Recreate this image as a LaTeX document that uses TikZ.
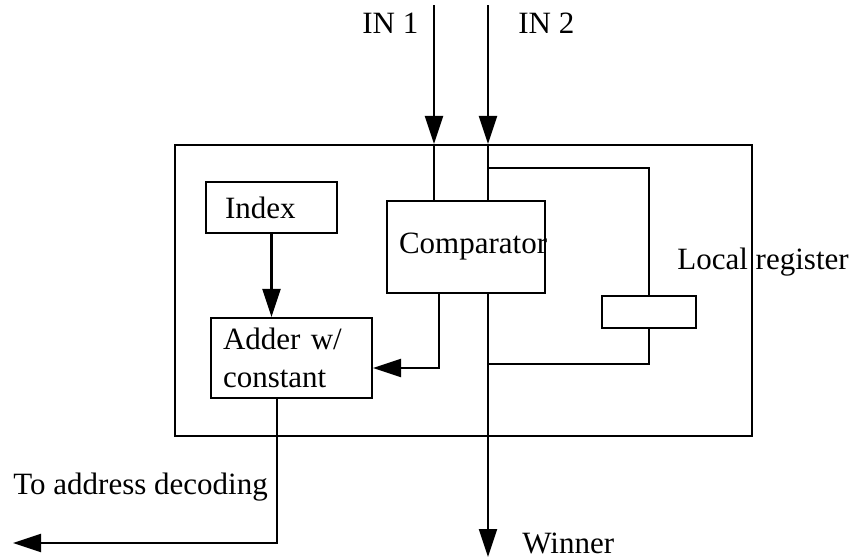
\documentclass[tikz,border=0pt]{standalone}
\usepackage{fontspec}
\setmainfont{Liberation Serif}
\usetikzlibrary{arrows.meta, positioning, calc}

\tikzset{
  blk/.style={draw, line width=1.1pt, align=left, inner ysep=0pt},
  wire/.style={line width=1.1pt},
  sig/.style={line width=1.1pt, -{Triangle[length=14pt,width=9pt]}},
  lbl/.style={inner sep=0pt, anchor=west}
}

\begin{document}
\begin{tikzpicture}[x=0.5pt, y=-0.5pt, font=\fontsize{15.5}{19}\selectfont]
  \useasboundingbox (0,0) rectangle (853,558);

  % Processing element
  \node[draw, line width=1.1pt, minimum width=288.5pt, minimum height=145.5pt] (chip) at (463.5,290.5) {};
  \node[blk, inner xsep=9.5pt, text width=46.5pt, minimum height=25.5pt] (index) at (271.5,207.5) {Index};
  \node[blk, inner xsep=6pt, text width=67pt, minimum height=46pt] (cmp) at (466,247) {Comparator};
  \node[blk, inner xsep=6pt, text width=68.5pt, minimum height=40pt] (adder) at (291.5,358) {Adder w/\\constant};
  \node[draw, line width=1.1pt, minimum width=47pt, minimum height=16pt] (reg) at (649,312) {};

  % Labels
  \node[lbl] (lin1) at (362,23) {IN 1};
  \node[lbl] (lin2) at (518,23) {IN 2};
  \node[lbl] (lreg) at (677,262) {Local register};
  \node[lbl] (laddr) at (13,487) {To address decoding};
  \node[lbl] (lwin) at (522,543) {Winner};

  % Inputs
  \coordinate (in1) at (434,5);
  \coordinate (in2) at (488,5);
  \draw[sig] (in1) -- (in1 |- chip.north);
  \draw[wire] (in1 |- chip.north) -- (in1 |- cmp.north);
  \draw[sig] (in2) -- (in2 |- chip.north);
  \draw[wire] (in2 |- chip.north) -- (in2 |- cmp.north);

  % Register loop
  \coordinate (tap) at (488,168);
  \coordinate (back) at (488,364);
  \draw[wire] (tap) -| (reg.north);
  \draw[wire] (reg.south) |- (back);

  % Outputs
  \coordinate (win) at (488,557);
  \draw[sig] (cmp.south -| win) -- (win);
  \coordinate (fb) at (439,368);
  \draw[sig] (cmp.south -| fb) |- (adder.east |- fb);
  \draw[sig] (index.south) -- (index.south |- adder.north);
  \coordinate (down) at (277,543);
  \coordinate (addr) at (13,543);
  \draw[sig] (adder.south -| down) -- (down) -- (addr);
\end{tikzpicture}
\end{document}
